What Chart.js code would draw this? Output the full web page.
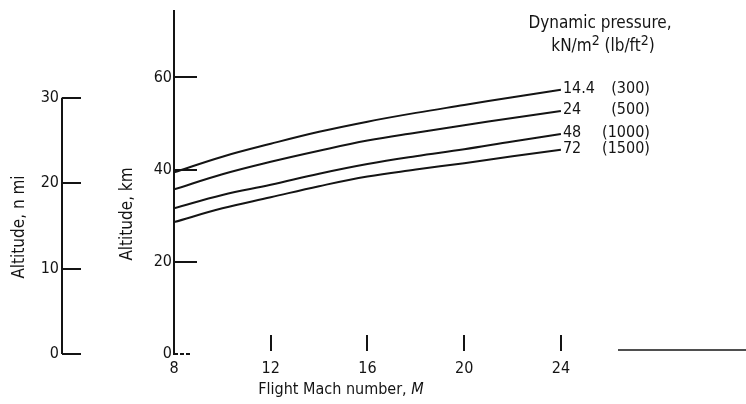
<!DOCTYPE html>
<html>
<head>
<meta charset="utf-8">
<title>Altitude vs flight Mach number</title>
<script src="https://cdn.jsdelivr.net/npm/chart.js@4.4.1/dist/chart.umd.min.js"></script>
<style>
  html, body { margin: 0; padding: 0; background: #fff; }
  #wrap { width: 746px; height: 404px; }
</style>
</head>
<body>
<div id="wrap"><canvas id="chart" width="746" height="404"></canvas></div>
<script>
/* ---- Data ---- */
const machNumbers = [8, 10, 12, 14, 16, 18, 20, 22, 24];

const altQ144 = [39.4, 42.8, 45.6, 48.2, 50.4, 52.3, 54.0, 55.7, 57.3];
const altQ24  = [35.7, 39.0, 41.7, 44.1, 46.3, 48.0, 49.6, 51.2, 52.7];
const altQ48  = [31.6, 34.5, 36.7, 39.1, 41.2, 42.9, 44.4, 46.1, 47.7];
const altQ72  = [28.6, 31.6, 34.0, 36.4, 38.5, 40.0, 41.4, 42.9, 44.3];

const qLabelsSI  = ['14.4', '24', '48', '72'];
const qLabelsUS  = ['(300)', '(500)', '(1000)', '(1500)'];

const xTicks   = [8, 12, 16, 20, 24];
const kmTicks  = [0, 20, 40, 60];
const nmiTicks = [0, 10, 20, 30];

const KM_PER_NMI = 1.852;
const KM_MAX = 74.4;

const FONT = '"DejaVu Sans Condensed", "Liberation Sans Narrow", "DejaVu Sans", sans-serif';
const INK  = '#141414';

const series = [altQ144, altQ24, altQ48, altQ72];

/* ---- Hand-drawn style axis decorations and annotations ---- */
const decorPlugin = {
  id: 'decor',
  afterDraw(chart) {
    const { ctx, chartArea, scales } = chart;
    const x = scales.x, y = scales.y, y2 = scales.y2;
    ctx.save();
    ctx.strokeStyle = INK;
    ctx.fillStyle = INK;
    ctx.lineWidth = 2;

    // x ticks pointing up into the plot
    xTicks.filter(v => v > 8).forEach(v => {
      const px = Math.round(x.getPixelForValue(v));
      ctx.beginPath();
      ctx.moveTo(px, chartArea.bottom - 3);
      ctx.lineTo(px, chartArea.bottom - 19);
      ctx.stroke();
    });

    // km ticks pointing right
    kmTicks.forEach(v => {
      const py = Math.round(y.getPixelForValue(v));
      ctx.beginPath();
      if (v === 0) ctx.setLineDash([4, 2]); else ctx.setLineDash([]);
      ctx.moveTo(chartArea.left, py);
      ctx.lineTo(chartArea.left + (v === 0 ? 16 : 23), py);
      ctx.stroke();
    });
    ctx.setLineDash([]);

    // n mi axis: line from 0 to 30 with ticks
    const ax = y2.right;
    ctx.beginPath();
    ctx.moveTo(ax, y2.getPixelForValue(0));
    ctx.lineTo(ax, y2.getPixelForValue(30));
    ctx.stroke();
    nmiTicks.forEach(v => {
      const py = Math.round(y2.getPixelForValue(v));
      ctx.beginPath();
      ctx.moveTo(ax, py);
      ctx.lineTo(ax + 19, py);
      ctx.stroke();
    });

    // axis titles
    ctx.font = '17px ' + FONT;
    ctx.textAlign = 'center';
    ctx.textBaseline = 'middle';
    [['Altitude, n mi', 20, 227], ['Altitude, km', 128, 214]].forEach(([t, tx, ty]) => {
      ctx.save();
      ctx.translate(tx, ty);
      ctx.rotate(-Math.PI / 2);
      ctx.fillText(t, 0, 0);
      ctx.restore();
    });

    drawParts(ctx, [
      ['Flight Mach number, ', '16px ' + FONT, 0],
      ['M', 'italic 16px ' + FONT, 0],
    ], 341, 390);

    // legend header
    drawParts(ctx, [['Dynamic pressure,', '17px ' + FONT, 0]], 600, 24);
    drawParts(ctx, [
      ['kN/m', '17px ' + FONT, 0],
      ['2', '14px ' + FONT, -6],
      [' (lb/ft', '17px ' + FONT, 0],
      ['2', '14px ' + FONT, -6],
      [')', '17px ' + FONT, 0],
    ], 603, 47);

    // curve labels at the Mach 24 end
    ctx.font = '16px ' + FONT;
    ctx.textBaseline = 'middle';
    const xEnd = x.getPixelForValue(machNumbers[machNumbers.length - 1]);
    series.forEach((s, i) => {
      const py = y.getPixelForValue(s[s.length - 1]) - 1;
      ctx.textAlign = 'left';
      ctx.fillText(qLabelsSI[i], xEnd + 2, py);
      ctx.textAlign = 'right';
      ctx.fillText(qLabelsUS[i], xEnd + 89, py);
    });

    // stray rule near the lower right edge
    ctx.lineWidth = 1.5;
    ctx.beginPath();
    ctx.moveTo(chartArea.right - 88, chartArea.bottom - 4);
    ctx.lineTo(chart.width, chartArea.bottom - 4);
    ctx.stroke();

    ctx.restore();
  }
};

function drawParts(ctx, parts, cx, cy) {
  let total = 0;
  parts.forEach(([t, f]) => { ctx.font = f; total += ctx.measureText(t).width; });
  let px = cx - total / 2;
  ctx.textAlign = 'left';
  ctx.textBaseline = 'middle';
  parts.forEach(([t, f, dy]) => {
    ctx.font = f;
    ctx.fillText(t, px, cy + dy);
    px += ctx.measureText(t).width;
  });
}

const keepTicks = list => scale => {
  scale.ticks = list.map(v => ({ value: v }));
};

new Chart(document.getElementById('chart'), {
  type: 'line',
  data: {
    labels: machNumbers,
    datasets: series.map((s, i) => ({
      label: qLabelsSI[i],
      data: machNumbers.map((m, j) => ({ x: m, y: s[j] })),
      borderColor: INK,
      borderWidth: 2,
      pointRadius: 0,
      tension: 0.4,
      fill: false,
      yAxisID: 'y',
    })),
  },
  options: {
    responsive: false,
    animation: false,
    layout: { padding: { top: 0, right: 40, bottom: 0, left: 0 } },
    plugins: { legend: { display: false }, tooltip: { enabled: false } },
    scales: {
      x: {
        type: 'linear',
        min: 8,
        max: 30,
        afterBuildTicks: keepTicks(xTicks),
        afterFit: s => { s.height = 50; },
        grid: { display: false, drawTicks: false },
        border: { display: false },
        ticks: { color: INK, font: { family: FONT, size: 16 }, padding: 5, maxRotation: 0 },
      },
      y: {
        type: 'linear',
        position: 'left',
        weight: 0,
        min: 0,
        max: KM_MAX,
        afterBuildTicks: keepTicks(kmTicks),
        afterFit: s => { s.width = 112; },
        grid: { display: false, drawTicks: false },
        border: { display: true, color: INK, width: 2 },
        ticks: { color: INK, font: { family: FONT, size: 16, lineHeight: 1 }, padding: 2 },
      },
      y2: {
        type: 'linear',
        position: 'left',
        weight: 1,
        min: 0,
        max: KM_MAX / KM_PER_NMI,
        afterBuildTicks: keepTicks(nmiTicks),
        afterFit: s => { s.width = 62; },
        grid: { display: false, drawTicks: false },
        border: { display: false },
        ticks: { color: INK, font: { family: FONT, size: 16, lineHeight: 1 }, padding: 3 },
      },
    },
  },
  plugins: [decorPlugin],
});
</script>
</body>
</html>
